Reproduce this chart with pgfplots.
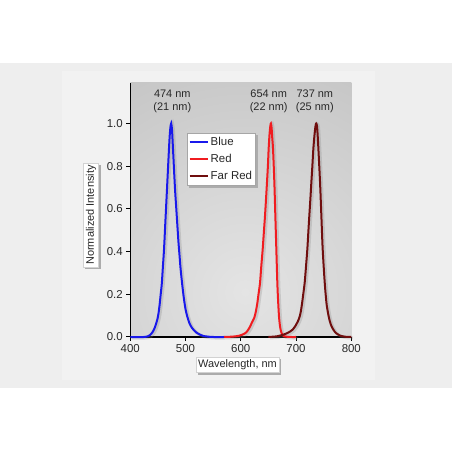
\documentclass[border=0pt]{standalone}
\usepackage{pgfplots}
\usepackage{pgfplotstable}
\pgfplotsset{compat=1.18}
\usepackage{fontspec}
\setmainfont{Liberation Sans}
\definecolor{blueL}{RGB}{25,25,235}
\definecolor{redL}{RGB}{240,28,32}
\definecolor{farred}{RGB}{112,14,14}
\definecolor{band}{RGB}{238,238,238}
\definecolor{bandin}{RGB}{242,242,242}
\definecolor{bgin}{RGB}{228,228,228}
\definecolor{bgout}{RGB}{176,176,176}
\definecolor{txt}{RGB}{40,40,40}
\pgfdeclarelayer{back}
\pgfdeclarelayer{shad}
\pgfsetlayers{back,shad,main}
\pgfplotstableread{
x y
400 0
425 0
430 0.002
434 0.006
438 0.015
441 0.026
444 0.042
447 0.065
449 0.083
451 0.11
453 0.15
455 0.2
457 0.25
459 0.33
461 0.41
463 0.515
465 0.62
467 0.725
469 0.83
471 0.93
472.5 0.98
474 1.0
475.5 0.97
477 0.895
479 0.79
481 0.69
483 0.61
485 0.53
487 0.45
489 0.385
491 0.32
494 0.245
497 0.18
500 0.13
503 0.097
507 0.065
511 0.045
515 0.032
520 0.02
526 0.011
532 0.005
540 0.002
550 0
570 0
}\blue
\pgfplotstableread{
x y
570 0
580 0.001
590 0.003
597 0.006
603 0.011
608 0.018
611 0.025
613.6 0.035
616 0.045
618 0.056
620 0.067
622 0.078
624 0.088
626 0.105
628 0.13
630 0.16
632 0.2
634.8 0.254
637 0.33
639.6 0.411
641.7 0.49
643.8 0.568
645.6 0.645
647.4 0.725
649 0.8
650.4 0.882
652 0.95
653.5 0.99
654.5 1.0
655.7 0.98
657 0.93
658.3 0.882
660.7 0.725
662.5 0.568
664.3 0.411
666.1 0.254
667.5 0.17
669.1 0.097
670.5 0.06
672 0.035
674 0.017
676 0.008
679 0.003
684 0.001
690 0
700 0
}\red
\pgfplotstableread{
x y
650 0
665 0.003
670 0.006
677 0.011
682 0.016
686 0.021
690 0.027
694 0.035
697 0.045
700 0.057
703 0.072
705 0.084
707 0.1
709 0.125
711 0.16
713 0.2
715.6 0.254
718 0.33
720.4 0.411
722.2 0.49
724 0.568
726 0.65
727.7 0.725
729.5 0.8
731.3 0.882
733.5 0.95
735.3 0.99
736.5 1.0
737.8 0.99
739 0.95
740.4 0.882
743.4 0.725
745.8 0.568
748.2 0.411
751.9 0.254
755 0.16
757 0.125
759 0.097
761 0.075
763 0.058
765 0.046
767.4 0.035
770 0.025
773 0.017
776.5 0.011
780 0.006
785 0.003
790 0.001
800 0
}\farred
\begin{document}
\begin{tikzpicture}[x=1bp,y=1bp]
\path[use as bounding box] (0,0) rectangle (452,452);
\begin{pgfonlayer}{back}
\fill[white] (0,0) rectangle (452,452);
\fill[band] (0,64) rectangle (452,389);
\fill[bandin] (62,72) rectangle (375,381);
\begin{scope}
\clip (130.3,115) rectangle (351.3,369);
\shade[inner color=bgin, outer color=bgout] (245,160) circle (420);
\end{scope}
\end{pgfonlayer}
\begin{axis}[
  at={(130.3bp,115bp)}, anchor=south west,
  width=221bp, height=254bp, scale only axis,
  xmin=400, xmax=800, ymin=0, ymax=1.19,
  axis x line*=bottom, axis y line*=left,
  axis line style={black, line width=1.3bp, -},
  xtick={400,500,600,700,800},
  ytick={0,0.2,0.4,0.6,0.8,1.0},
  yticklabel style={/pgf/number format/.cd, fixed, fixed zerofill, precision=1},
  /pgf/number format/assume math mode=true,
  tick align=outside, major tick length=4bp,
  tick style={black, line width=1bp},
  ticklabel style={font=\fontsize{11.5}{13}\selectfont, text=txt},
  clip=false,
  xlabel={Wavelength, nm},
  ylabel={Normalized Intensity},
  xlabel style={at={(axis description cs:0.485,-0.110)}, anchor=center, name=xl,
    font=\fontsize{11}{13}\selectfont, text=txt, fill=white, draw=gray!35,
    inner xsep=2bp, inner ysep=2.5bp},
  ylabel style={at={(axis description cs:-0.178,0.480)}, anchor=center, name=yl,
    font=\fontsize{11}{13}\selectfont, text=txt, fill=white, draw=gray!35,
    inner xsep=2bp, inner ysep=2.5bp},
  legend style={at={(0.2566,0.804)}, anchor=north west, name=leg,
    draw=gray!70, fill=white, font=\fontsize{11.5}{13}\selectfont, text=txt,
    inner xsep=1.5bp, inner ysep=2.5bp, row sep=3bp,
    cells={anchor=west}},
  legend image code/.code={\draw[#1, line width=2bp] (0bp,0bp) -- (18bp,0bp);},
]
\addplot[gray, opacity=0.25, line width=3bp, xshift=1.5bp, yshift=-1bp, smooth, tension=0.5, forget plot] table {\blue};
\addplot[gray, opacity=0.25, line width=3bp, xshift=1.5bp, yshift=-1bp, smooth, tension=0.5, forget plot] table {\red};
\addplot[gray, opacity=0.25, line width=3bp, xshift=1.5bp, yshift=-1bp, smooth, tension=0.5, forget plot] table {\farred};
\addplot[blueL, line width=2bp, smooth, tension=0.5] table {\blue};
\addlegendentry{Blue}
\addplot[redL, line width=2bp, smooth, tension=0.5] table {\red};
\addlegendentry{Red}
\addplot[farred, line width=2bp, smooth, tension=0.5] table {\farred};
\addlegendentry{Far Red}
\node[align=center, font=\fontsize{11}{12.5}\selectfont, text=txt] at (axis cs:476,1.104) {474 nm\\(21 nm)};
\node[align=center, font=\fontsize{11}{12.5}\selectfont, text=txt] at (axis cs:650.5,1.104) {654 nm\\(22 nm)};
\node[align=center, font=\fontsize{11}{12.5}\selectfont, text=txt] at (axis cs:734,1.104) {737 nm\\(25 nm)};
\end{axis}
\begin{pgfonlayer}{shad}
\foreach \n in {leg,xl,yl}{
  \fill[gray!65] ([xshift=2bp,yshift=-2bp]\n.south west) rectangle ([xshift=2bp,yshift=-2bp]\n.north east);
}
\end{pgfonlayer}
\end{tikzpicture}
\end{document}
